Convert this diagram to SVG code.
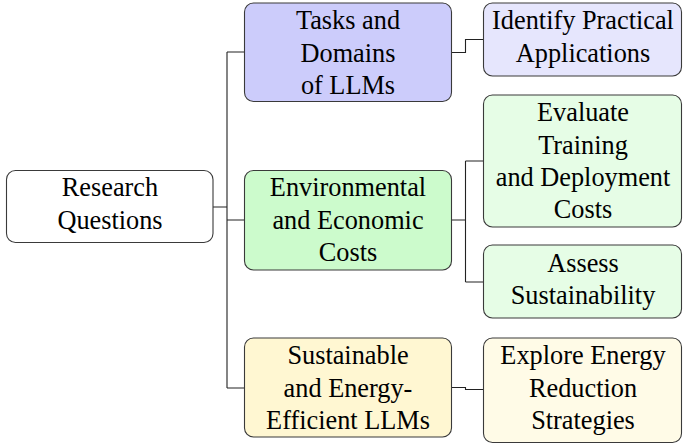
<svg xmlns="http://www.w3.org/2000/svg" width="684" height="444" viewBox="0 0 684 444">
<style>
.box{stroke:#3a3a3a;stroke-width:1.1}
text{font-family:'Liberation Serif','Times New Roman',serif;font-size:26.3px;fill:#000;text-anchor:middle}
.c{fill:none;stroke:#222;stroke-width:1.1}
</style>
<rect width="684" height="444" fill="#fff"/>
<g id="connectors">
<path class="c" d="M213,207 H227 M227,52 V388 M227,52 H245 M227,220 H245 M227,388 H245"/>
<path class="c" d="M452,52.5 H465.5 V39.5 H483"/>
<path class="c" d="M452,220 H465.5 M465.5,161 V282 M465.5,161 H483 M465.5,282 H483"/>
<path class="c" d="M452,387.5 H465.5 V389.5 H483"/>
</g>
<g id="root">
<rect class="box" x="6.5" y="170.5" width="206.5" height="72" rx="9" fill="#fff"/>
<text x="110" y="196">Research</text>
<text x="110" y="229">Questions</text>
</g>
<g id="tasks">
<rect class="box" x="244.5" y="3" width="207" height="98.5" rx="9" fill="#ccccfb"/>
<text x="348" y="29">Tasks and</text>
<text x="348" y="62">Domains</text>
<text x="348" y="94">of LLMs</text>
</g>
<g id="identify">
<rect class="box" x="483.5" y="3" width="198" height="73" rx="9" fill="#e6e6fd"/>
<text x="583" y="29">Identify Practical</text>
<text x="583" y="62">Applications</text>
</g>
<g id="environmental">
<rect class="box" x="244.5" y="170.5" width="207" height="99.5" rx="9" fill="#ccfbcc"/>
<text x="348" y="196">Environmental</text>
<text x="348" y="229">and Economic</text>
<text x="348" y="261">Costs</text>
</g>
<g id="evaluate">
<rect class="box" x="483.5" y="95" width="198" height="132" rx="9" fill="#e6fde6"/>
<text x="583" y="121">Evaluate</text>
<text x="583" y="154">Training</text>
<text x="583" y="186">and Deployment</text>
<text x="583" y="218">Costs</text>
</g>
<g id="assess">
<rect class="box" x="483.5" y="245" width="198" height="73" rx="9" fill="#e6fde6"/>
<text x="583" y="272">Assess</text>
<text x="583" y="304">Sustainability</text>
</g>
<g id="sustainable">
<rect class="box" x="244.5" y="338" width="207" height="99" rx="9" fill="#fff7d2"/>
<text x="348" y="364">Sustainable</text>
<text x="348" y="397">and Energy-</text>
<text x="348" y="429">Efficient LLMs</text>
</g>
<g id="explore">
<rect class="box" x="483.5" y="338" width="198" height="104.5" rx="9" fill="#fffbe7"/>
<text x="583" y="364">Explore Energy</text>
<text x="583" y="397">Reduction</text>
<text x="583" y="429">Strategies</text>
</g>
</svg>
